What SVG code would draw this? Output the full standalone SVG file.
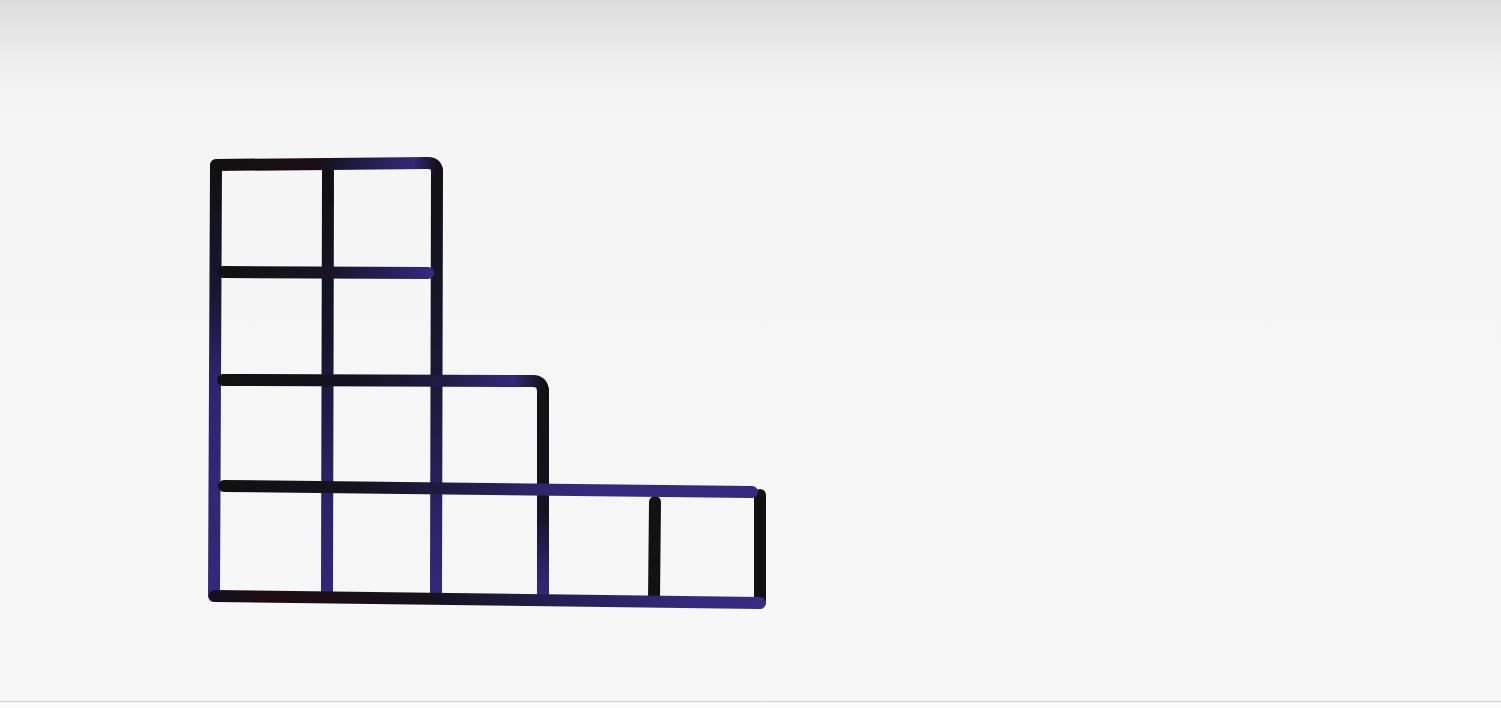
<svg xmlns="http://www.w3.org/2000/svg" width="1501" height="708" viewBox="0 0 1501 708">
<defs>
<linearGradient id="bg" x1="0" y1="0" x2="0" y2="1">
<stop offset="0" stop-color="#dcdcdc"/>
<stop offset="0.04" stop-color="#e4e4e4"/>
<stop offset="0.09" stop-color="#efefef"/>
<stop offset="0.16" stop-color="#f5f5f5"/>
<stop offset="1" stop-color="#f7f7f7"/>
</linearGradient>
<linearGradient id="hTop" gradientUnits="userSpaceOnUse" x1="216" y1="0" x2="436" y2="0">
<stop offset="0" stop-color="#111"/><stop offset="0.45" stop-color="#1c0d14"/><stop offset="0.6" stop-color="#1a1a3a"/><stop offset="0.9" stop-color="#33287a"/><stop offset="1" stop-color="#151020"/>
</linearGradient>
<linearGradient id="h2" gradientUnits="userSpaceOnUse" x1="222" y1="0" x2="430" y2="0">
<stop offset="0" stop-color="#111"/><stop offset="0.5" stop-color="#181424"/><stop offset="0.8" stop-color="#262058"/><stop offset="1" stop-color="#342a80"/>
</linearGradient>
<linearGradient id="h3" gradientUnits="userSpaceOnUse" x1="222" y1="0" x2="545" y2="0">
<stop offset="0" stop-color="#111"/><stop offset="0.4" stop-color="#141220"/><stop offset="0.7" stop-color="#221d48"/><stop offset="0.9" stop-color="#33287a"/><stop offset="1" stop-color="#111"/>
</linearGradient>
<linearGradient id="h4" gradientUnits="userSpaceOnUse" x1="222" y1="0" x2="758" y2="0">
<stop offset="0" stop-color="#111"/><stop offset="0.25" stop-color="#15131f"/><stop offset="0.45" stop-color="#221d48"/><stop offset="0.65" stop-color="#33287a"/><stop offset="1" stop-color="#352a80"/>
</linearGradient>
<linearGradient id="hBot" gradientUnits="userSpaceOnUse" x1="215" y1="0" x2="762" y2="0">
<stop offset="0" stop-color="#141020"/><stop offset="0.1" stop-color="#1e0c12"/><stop offset="0.4" stop-color="#15131d"/><stop offset="0.65" stop-color="#262058"/><stop offset="0.85" stop-color="#33287a"/><stop offset="1" stop-color="#372c84"/>
</linearGradient>
<linearGradient id="vL" gradientUnits="userSpaceOnUse" x1="0" y1="165" x2="0" y2="597">
<stop offset="0" stop-color="#111"/><stop offset="0.3" stop-color="#181634"/><stop offset="0.5" stop-color="#2e2570"/><stop offset="1" stop-color="#33287a"/>
</linearGradient>
<linearGradient id="vM" gradientUnits="userSpaceOnUse" x1="0" y1="170" x2="0" y2="596">
<stop offset="0" stop-color="#111"/><stop offset="0.4" stop-color="#16142c"/><stop offset="0.7" stop-color="#282060"/><stop offset="1" stop-color="#33287a"/>
</linearGradient>
<linearGradient id="vR" gradientUnits="userSpaceOnUse" x1="0" y1="165" x2="0" y2="597">
<stop offset="0" stop-color="#111"/><stop offset="0.5" stop-color="#1a1836"/><stop offset="0.8" stop-color="#2a2266"/><stop offset="1" stop-color="#33287a"/>
</linearGradient>
<linearGradient id="v4" gradientUnits="userSpaceOnUse" x1="0" y1="381" x2="0" y2="598">
<stop offset="0" stop-color="#111"/><stop offset="0.6" stop-color="#151320"/><stop offset="0.85" stop-color="#2a2266"/><stop offset="1" stop-color="#33287a"/>
</linearGradient>
<style>
.ln{fill:none;stroke-width:12;stroke-linecap:round;stroke-linejoin:round}
.blk{stroke:#121212}
</style>
</defs>
<rect x="0" y="0" width="1501" height="708" fill="url(#bg)"/>
<line x1="0" y1="701.5" x2="1501" y2="701.5" stroke="#cfcfcf" stroke-width="1.2"/>
<rect x="0" y="702" width="1501" height="6" fill="#fbfbfb"/>
<g id="connectors">
<path id="v-left" class="ln" d="M216,166 L214,596" stroke="url(#vL)"/>
<path id="v-2" class="ln" d="M328,171 L327,594" stroke="url(#vM)"/>
<path id="v-3" class="ln" d="M437,170 L436,596" stroke="url(#vR)"/>
<path id="v-4" class="ln" d="M543,390 L543,598" stroke="url(#v4)"/>
<path id="v-5" class="ln blk" d="M655,502 L654,600"/>
<path id="v-6" class="ln blk" d="M760,495 L760,602"/>
<path id="h-top" class="ln" d="M216,165 L428,163 Q437,163 437,172" stroke="url(#hTop)"/>
<path id="h-2" class="ln" d="M223,272 L428,273" stroke="url(#h2)"/>
<path id="h-3" class="ln" d="M223,380 L533,381 Q543,381 543,392" stroke="url(#h3)"/>
<path id="h-4" class="ln" d="M224,486 L752,492" stroke="url(#h4)"/>
<path id="h-bot" class="ln" d="M215,596 L760,603" stroke="url(#hBot)"/>
</g>
</svg>
